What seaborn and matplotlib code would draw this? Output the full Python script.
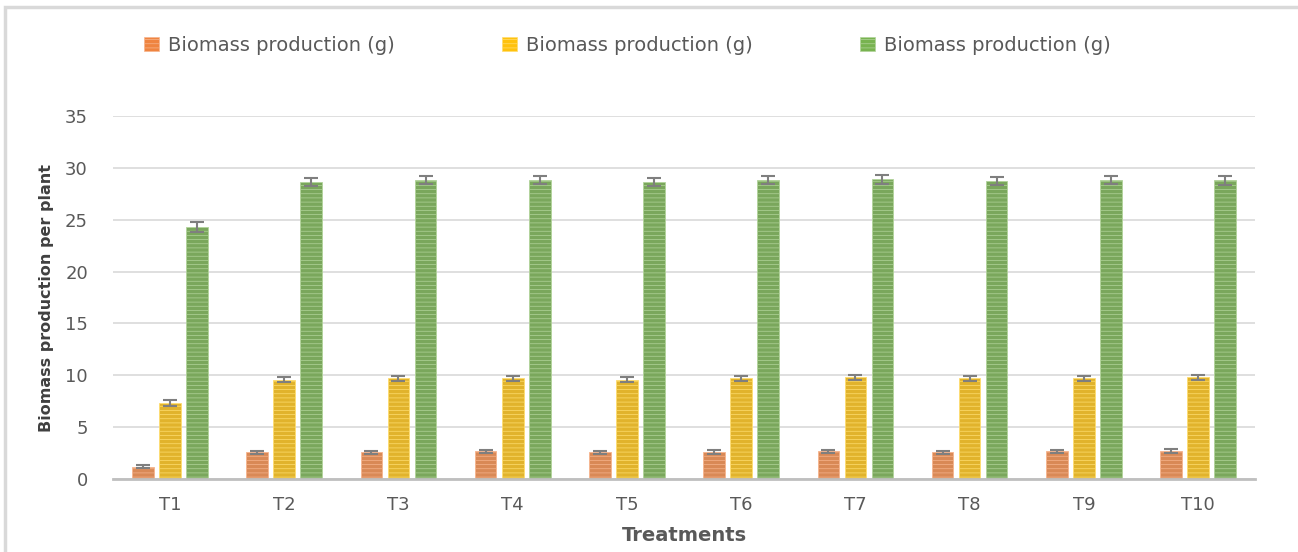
import matplotlib
matplotlib.use("Agg")
import matplotlib.pyplot as plt
import seaborn as sns
import pandas as pd
import numpy as np
from matplotlib.patches import Rectangle

treatments = ["T1", "T2", "T3", "T4", "T5", "T6", "T7", "T8", "T9", "T10"]
series_a = [1.2, 2.6, 2.6, 2.7, 2.6, 2.6, 2.7, 2.6, 2.7, 2.7]
series_b = [7.3, 9.6, 9.7, 9.7, 9.6, 9.7, 9.8, 9.7, 9.7, 9.8]
series_c = [24.3, 28.6, 28.8, 28.8, 28.6, 28.8, 28.9, 28.7, 28.8, 28.8]
err_a = [0.15, 0.15, 0.15, 0.15, 0.15, 0.2, 0.15, 0.15, 0.15, 0.2]
err_b = [0.3, 0.25, 0.25, 0.25, 0.25, 0.25, 0.25, 0.25, 0.25, 0.25]
err_c = [0.5, 0.4, 0.4, 0.4, 0.4, 0.4, 0.45, 0.4, 0.4, 0.45]
legend_label = "Biomass production (g)"

keys = ["a", "b", "c"]
colors = ["#EF8440", "#FFC20E", "#78B350"]
stripes = ["#F7B58E", "#FFDD70", "#B2D49B"]

df = pd.DataFrame({
    "treatment": treatments * 3,
    "series": [k for k in keys for _ in treatments],
    "value": series_a + series_b + series_c,
    "err": err_a + err_b + err_c,
})

sns.set_style("white")
plt.rcParams["hatch.linewidth"] = 0.5
grey = "#595959"

fig = plt.figure(figsize=(12.98, 5.52), dpi=100)
ax = fig.add_axes([0.087, 0.132, 0.880, 0.658])

sns.barplot(data=df, x="treatment", y="value", hue="series", hue_order=keys,
            palette=dict(zip(keys, colors)), width=0.71, gap=0.2,
            errorbar=None, ax=ax, legend=False)

for cont, key, edge in zip(ax.containers, keys, stripes):
    sub = df[df["series"] == key]
    xs = [p.get_x() + p.get_width() / 2 for p in cont.patches]
    for p in cont.patches:
        p.set_hatch("----")
        p.set_edgecolor(edge)
        p.set_linewidth(0.6)
    ax.errorbar(xs, sub["value"].values, yerr=sub["err"].values, fmt="none",
                ecolor="#7F7F7F", elinewidth=1.5, capsize=5, capthick=1.5, zorder=5)

ax.set_xlim(-0.5, len(treatments) - 0.5)
ax.set_ylim(0, 35)
ax.set_yticks(range(0, 36, 5))
ax.grid(axis="y", color="#D9D9D9", linewidth=1.2)
ax.set_axisbelow(True)
for s in ["top", "right", "left"]:
    ax.spines[s].set_visible(False)
ax.spines["bottom"].set_color("#BFBFBF")
ax.spines["bottom"].set_linewidth(2)
ax.tick_params(axis="both", length=0, labelsize=13, labelcolor=grey)
ax.tick_params(axis="y", pad=18)
ax.tick_params(axis="x", pad=12)
ax.set_ylabel("Biomass production per plant", fontsize=11.5, fontweight="bold",
              color="#404040", labelpad=8)
ax.set_xlabel("Treatments", fontsize=14, fontweight="bold", color=grey, labelpad=9)

handles = [Rectangle((0, 0), 1, 1, facecolor=c, edgecolor=e, hatch="----", linewidth=0.5)
           for c, e in zip(colors, stripes)]
fig.legend(handles, [legend_label] * 3, loc="upper left", ncol=3,
           bbox_to_anchor=(144 / 1298, 1 - 36 / 552), frameon=False, fontsize=14,
           labelcolor=grey, handlelength=0.75, handleheight=0.75, handletextpad=0.5,
           columnspacing=5.5, borderpad=0, borderaxespad=0)

fig.patches.append(Rectangle((5 / 1298, -0.05), 1.1, 1 - 7 / 552 + 0.05,
                             transform=fig.transFigure, fill=False,
                             edgecolor="#D9D9D9", linewidth=2.5))

fig.savefig("out.png", dpi=100, facecolor="white")
